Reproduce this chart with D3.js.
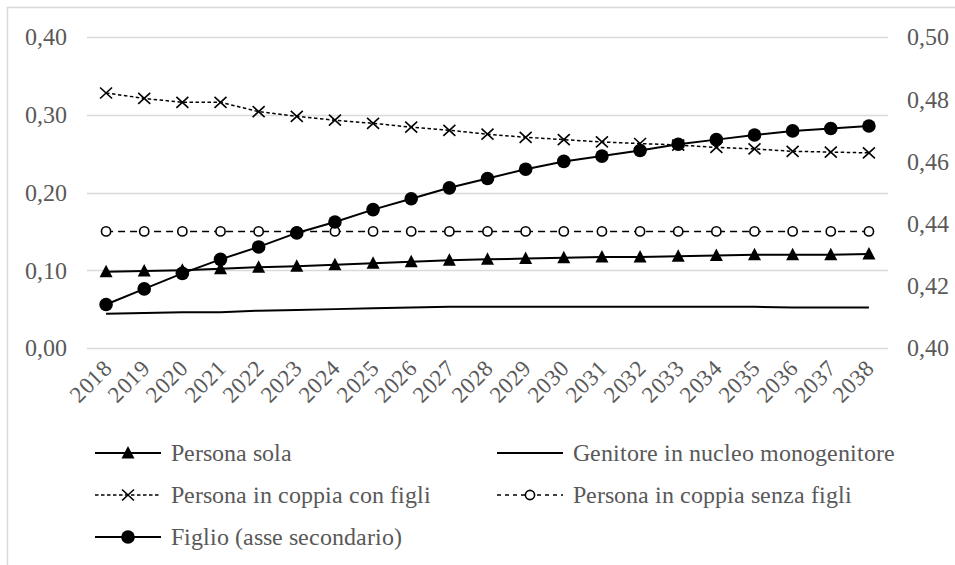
<!DOCTYPE html>
<html>
<head>
<meta charset="utf-8">
<script src="https://cdn.jsdelivr.net/npm/d3@7"></script>
<style>
    @font-face {
        font-family: "ChartSerif";
        src: local("Liberation Serif"), local("LiberationSerif"), local("LiberationSerif-Regular"), local("Tinos");
    }
    html, body { margin: 0; padding: 0; background: #fff; overflow: hidden; }
</style>
</head>
<body>
<svg id="chart" width="955" height="565"></svg>
<script>
const years = d3.range(2018, 2039).map(String);

const personaSola = [0.098, 0.099, 0.100, 0.102, 0.104, 0.105, 0.107, 0.109, 0.111, 0.113, 0.114, 0.115, 0.116, 0.117, 0.117, 0.118, 0.119, 0.120, 0.120, 0.120, 0.121];
const genitore = [0.044, 0.045, 0.046, 0.046, 0.048, 0.049, 0.050, 0.051, 0.052, 0.053, 0.053, 0.053, 0.053, 0.053, 0.053, 0.053, 0.053, 0.053, 0.052, 0.052, 0.052];
const coppiaConFigli = [0.328, 0.321, 0.316, 0.316, 0.304, 0.298, 0.293, 0.289, 0.284, 0.280, 0.275, 0.271, 0.268, 0.265, 0.263, 0.261, 0.258, 0.256, 0.253, 0.252, 0.251];
const coppiaSenzaFigli = [0.150, 0.150, 0.150, 0.150, 0.150, 0.150, 0.150, 0.150, 0.150, 0.150, 0.150, 0.150, 0.150, 0.150, 0.150, 0.150, 0.150, 0.150, 0.150, 0.150, 0.150];
const figlio = [0.414, 0.419, 0.424, 0.4285, 0.4325, 0.437, 0.4405, 0.4445, 0.448, 0.4515, 0.4545, 0.4575, 0.460, 0.4617, 0.4635, 0.4655, 0.467, 0.4685, 0.4698, 0.4706, 0.4714];

const leftTicks = [0, 0.1, 0.2, 0.3, 0.4];
const rightTicks = [0.40, 0.42, 0.44, 0.46, 0.48, 0.50];

const series = [
    { name: "Persona sola", values: personaSola, axis: "left", dash: null, width: 2, marker: "triangle" },
    { name: "Genitore in nucleo monogenitore", values: genitore, axis: "left", dash: null, width: 2, marker: null },
    { name: "Persona in coppia con figli", values: coppiaConFigli, axis: "left", dash: "3.5,2.5", width: 1.5, marker: "cross" },
    { name: "Persona in coppia senza figli", values: coppiaSenzaFigli, axis: "left", dash: "7,5", width: 1.5, marker: "open" },
    { name: "Figlio (asse secondario)", values: figlio, axis: "right", dash: null, width: 2, marker: "dot" }
];

const FONT = "ChartSerif, \"Liberation Serif\", Tinos";
const TEXT_COLOR = "#595959";

const svg = d3.select("#chart");

const margin = { top: 37, right: 67, bottom: 217, left: 87 };
const width = 955 - margin.left - margin.right;
const plotBottom = 565 - margin.bottom;

// Outer chart border
svg.append("rect")
    .attr("x", 7.5)
    .attr("y", 7.5)
    .attr("width", 1000)
    .attr("height", 1000)
    .attr("fill", "none")
    .attr("stroke", "#d9d9d9")
    .attr("stroke-width", 1.5);

const xScale = d3.scaleBand().domain(years).range([margin.left, margin.left + width]);
const xCenter = d => xScale(d) + xScale.bandwidth() / 2;
const yLeft = d3.scaleLinear().domain([0, 0.4]).range([plotBottom, margin.top]);
const yRight = d3.scaleLinear().domain([0.4, 0.5]).range([plotBottom, margin.top]);

const fmt = (v, digits) => v.toFixed(digits).replace(".", ",");

// Gridlines
svg.selectAll(".grid")
    .data(leftTicks)
    .join("line")
    .attr("class", "grid")
    .attr("x1", margin.left)
    .attr("x2", margin.left + width)
    .attr("y1", d => Math.round(yLeft(d)) + 0.5)
    .attr("y2", d => Math.round(yLeft(d)) + 0.5)
    .attr("stroke", "#d9d9d9")
    .attr("stroke-width", 1.5);

// Axis labels
svg.selectAll(".left-label")
    .data(leftTicks)
    .join("text")
    .attr("class", "left-label")
    .attr("x", 67)
    .attr("y", d => yLeft(d))
    .attr("dy", "0.35em")
    .attr("text-anchor", "end")
    .attr("font-family", FONT)
    .style("font-family", FONT)
    .attr("font-size", 24)
    .attr("fill", TEXT_COLOR)
    .text(d => fmt(d, 2));

svg.selectAll(".right-label")
    .data(rightTicks)
    .join("text")
    .attr("class", "right-label")
    .attr("x", 907)
    .attr("y", d => yRight(d))
    .attr("dy", "0.35em")
    .attr("font-family", FONT)
    .style("font-family", FONT)
    .attr("font-size", 24)
    .attr("fill", TEXT_COLOR)
    .text(d => fmt(d, 2));

svg.selectAll(".year-label")
    .data(years)
    .join("text")
    .attr("class", "year-label")
    .attr("text-anchor", "end")
    .attr("font-family", FONT)
    .style("font-family", FONT)
    .attr("font-size", 23)
    .attr("fill", TEXT_COLOR)
    .attr("transform", d => `translate(${xCenter(d) + 7}, ${plotBottom + 22}) rotate(-45)`)
    .text(d => d);

// Markers
const drawMarker = (sel, type) => {
    if (type === "triangle") {
        sel.append("path").attr("d", "M0,-7L6.5,5.5L-6.5,5.5Z").attr("fill", "#000");
    } else if (type === "dot") {
        sel.append("circle").attr("r", 6.8).attr("fill", "#000");
    } else if (type === "open") {
        sel.append("circle").attr("r", 4.6).attr("fill", "#fff").attr("stroke", "#000").attr("stroke-width", 1.6);
    } else if (type === "cross") {
        sel.append("path").attr("d", "M-6,-5.5L6,5.5M-6,5.5L6,-5.5").attr("stroke", "#000").attr("stroke-width", 1.6).attr("fill", "none");
    }
};

// Series
series.forEach(s => {
    const yScale = s.axis === "left" ? yLeft : yRight;
    const line = d3.line()
        .x((_, i) => xCenter(years[i]))
        .y(d => yScale(d));

    const g = svg.append("g").attr("class", "series");

    g.append("path")
        .datum(s.values)
        .attr("d", line)
        .attr("fill", "none")
        .attr("stroke", "#000")
        .attr("stroke-width", s.width)
        .attr("stroke-dasharray", s.dash);

    if (s.marker) {
        g.selectAll(".marker")
            .data(s.values)
            .join("g")
            .attr("class", "marker")
            .attr("transform", (d, i) => `translate(${xCenter(years[i])}, ${yScale(d)})`)
            .each(function() { drawMarker(d3.select(this), s.marker); });
    }
});

// Legend
const legendPositions = [
    { x: 95, y: 453 },
    { x: 497, y: 453 },
    { x: 95, y: 495 },
    { x: 497, y: 495 },
    { x: 95, y: 537 }
];

const legendItem = svg.selectAll(".legend-item")
    .data(series)
    .join("g")
    .attr("class", "legend-item")
    .attr("transform", (d, i) => `translate(${legendPositions[i].x}, ${legendPositions[i].y})`);

legendItem.append("line")
    .attr("x1", 0)
    .attr("x2", 66)
    .attr("stroke", "#000")
    .attr("stroke-width", d => d.width)
    .attr("stroke-dasharray", d => d.dash === "7,5" ? "4,4" : d.dash);

legendItem.filter(d => d.marker)
    .append("g")
    .attr("transform", "translate(33, 0)")
    .each(function(d) { drawMarker(d3.select(this), d.marker); });

legendItem.append("text")
    .attr("x", 76)
    .attr("dy", "0.35em")
    .attr("font-family", FONT)
    .style("font-family", FONT)
    .attr("font-size", 24)
    .attr("fill", TEXT_COLOR)
    .text(d => d.name);
</script>
</body>
</html>
